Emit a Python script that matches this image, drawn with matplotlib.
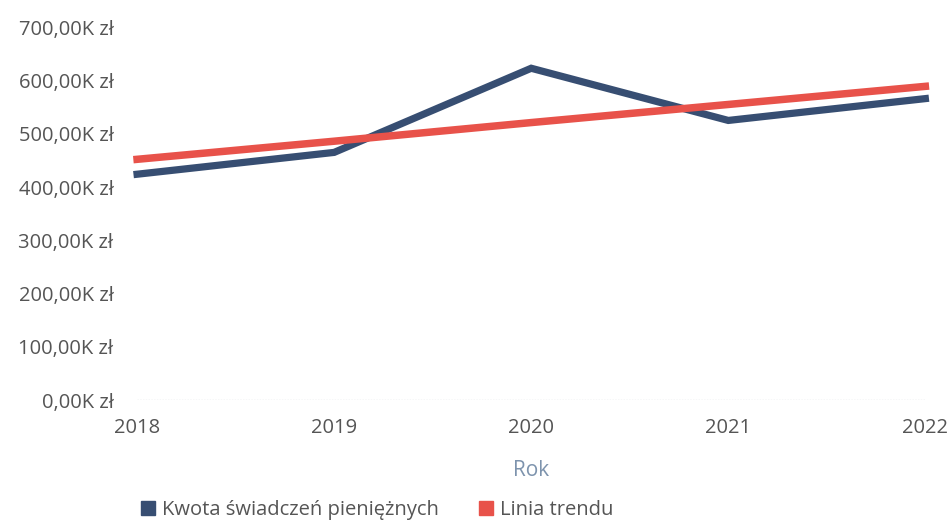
import numpy as np
import matplotlib.pyplot as plt
from matplotlib.lines import Line2D

plt.rcParams['font.family'] = ['Open Sans', 'DejaVu Sans']

lata = [2018, 2019, 2020, 2021, 2022]
kwota = [424000, 465000, 623000, 525000, 566000]
trend = [452000, 486000, 521000, 555000, 589000]
y_ticks = [0, 100000, 200000, 300000, 400000, 500000, 600000, 700000]

niebieski = '#374e72'
czerwony = '#e8524a'
szary = '#555555'

fig = plt.figure(figsize=(9.52, 5.24), dpi=100)
ax = fig.add_axes([0.144, 0.2366, 0.828, 0.7114])

ax.plot(lata, kwota, color=niebieski, lw=5.2, solid_joinstyle='miter', clip_on=False, zorder=3)
ax.plot(lata, trend, color=czerwony, lw=5.4, clip_on=False, zorder=4)

ax.set_xlim(2018, 2022)
ax.set_ylim(0, 700000)
ax.set_xticks(lata)
ax.set_xticklabels([str(r) for r in lata])
ax.set_yticks(y_ticks)
ax.set_yticklabels([f'{v/1000:.2f}'.replace('.', ',') + 'K zł' for v in y_ticks])

for s in ax.spines.values():
    s.set_visible(False)
ax.axhline(0, color='#d5d8dc', lw=1, ls=(0, (1, 1)), zorder=1)
ax.tick_params(axis='both', length=0, labelsize=14.5, labelcolor=szary)
ax.tick_params(axis='y', pad=17)
ax.tick_params(axis='x', pad=13)

ax.set_xlabel('Rok', fontsize=15, color='#7d93ad', labelpad=16)

uchwyty = [
    Line2D([], [], marker='s', ls='none', color=niebieski, markersize=10),
    Line2D([], [], marker='s', ls='none', color=czerwony, markersize=10),
]
fig.legend(uchwyty, ['Kwota świadczeń pieniężnych', 'Linia trendu'],
           loc='center left', bbox_to_anchor=(0.124, 0.027), ncol=2, frameon=False,
           fontsize=14.5, labelcolor=szary, handletextpad=0.1, columnspacing=1.7,
           handlelength=1.2)

fig.savefig('out.png', dpi=100)
